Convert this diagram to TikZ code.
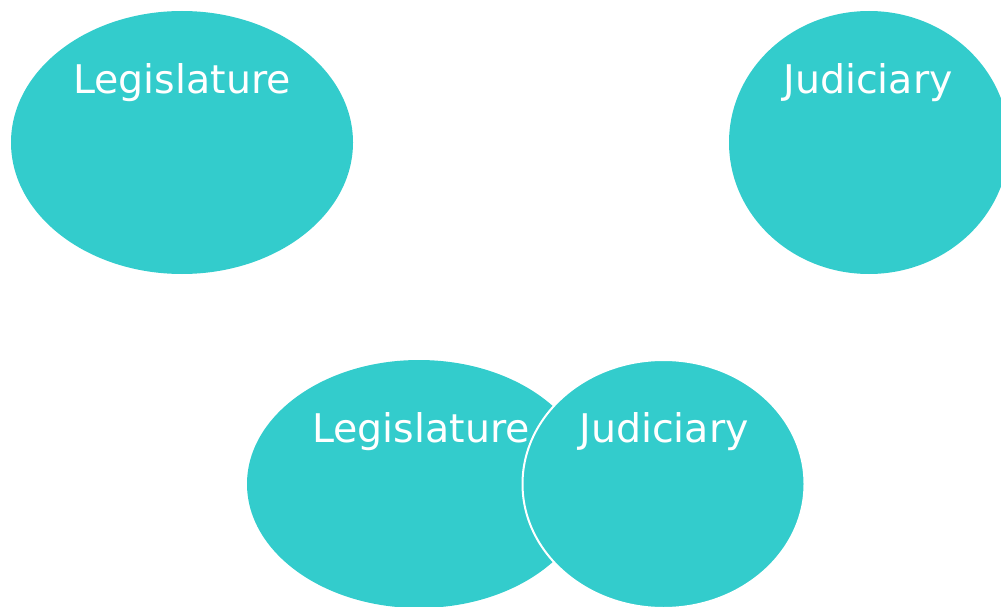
\documentclass[tikz,border=0pt]{standalone}
\usepackage{fontspec}
\setmainfont{DejaVu Sans}
\usetikzlibrary{shapes.geometric}
\definecolor{teal1}{HTML}{33CCCC}
\tikzset{
  blob/.style={ellipse, fill=teal1, draw=none, inner sep=0pt, outer sep=0pt},
  blobedge/.style={blob, draw=white, line width=2pt},
  lbl/.style={text=white, anchor=base, inner sep=0pt, font=\fontsize{39.5}{42}\selectfont}
}
\begin{document}
\begin{tikzpicture}[x=1pt,y=-1pt]
\useasboundingbox (0,0) rectangle (1001,607);
\clip (0,0) rectangle (1001,607);
\node[blob, minimum width=342pt, minimum height=263pt] (legA) at (182,142.5) {};
\node[blob, minimum width=280pt, minimum height=263pt] (judA) at (869,142.5) {};
\node[blob, minimum width=344pt, minimum height=248pt] (legB) at (419,484) {};
\node[blobedge, minimum width=282pt, minimum height=248pt] (judB) at (663.5,484) {};
\node[lbl] (tlegA) at (182,94) {Legislature};
\node[lbl] (tjudA) at (868,94) {Judiciary};
\node[lbl] (tlegB) at (421,442) {Legislature};
\node[lbl] (tjudB) at (664,442) {Judiciary};
\end{tikzpicture}
\end{document}
